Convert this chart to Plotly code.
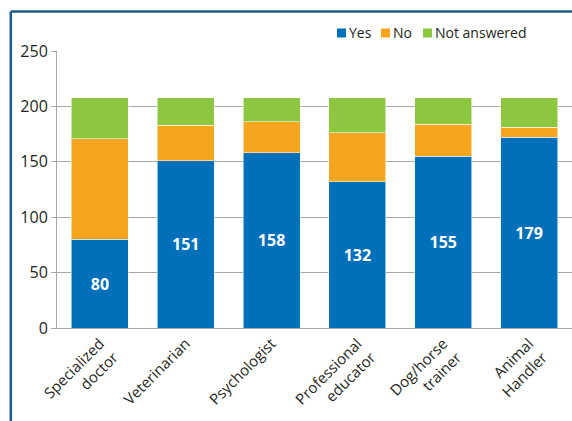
import plotly.graph_objects as go

categories = ["Specialized<br>doctor", "Veterinarian", "Psychologist",
              "Professional<br>educator", "Dog/horse<br>trainer", "Animal<br>Handler"]
yes_values = [80, 151, 158, 132, 155, 172]
yes_labels = ["80", "151", "158", "132", "155", "179"]
no_values = [91, 32, 28, 44, 29, 9]
na_values = [37, 25, 22, 32, 24, 27]
series_names = ["Yes", "No", "Not answered"]
colors = ["#0070BA", "#F7A51E", "#8DC63F"]
y_ticks = [0, 50, 100, 150, 200, 250]

FONT = "Open Sans"
TEXT = "#231F20"
GRID = "#A8A8A8"
FRAME = "#1B5A8C"

W, H = 572, 421
ML, MR, MT, MB = 57, 0, 51, 93
PW = W - ML - MR
PH = H - MT - MB


def px_x(x):
    return (x - ML) / PW


def px_y(y):
    return (H - MB - y) / PH


fig = go.Figure()
edge = dict(color="rgba(255,255,255,0.55)", width=1)
fig.add_trace(go.Bar(x=categories, y=yes_values, name=series_names[0],
                     marker=dict(color=colors[0], line=edge),
                     text=yes_labels, textposition="inside",
                     insidetextanchor="middle", textangle=0,
                     textfont=dict(family=FONT, size=16, color="white", weight="bold"),
                     showlegend=False))
fig.add_trace(go.Bar(x=categories, y=no_values, name=series_names[1],
                     marker=dict(color=colors[1], line=edge), showlegend=False))
fig.add_trace(go.Bar(x=categories, y=na_values, name=series_names[2],
                     marker=dict(color=colors[2], line=edge), showlegend=False))

shapes = []
# frame (top and left edge of the figure box)
fx = px_x(10.8)
fy = px_y(11.5)
shapes.append(dict(type="line", xref="paper", yref="paper", x0=fx, x1=fx,
                   y0=px_y(425), y1=fy, line=dict(color=FRAME, width=2.5), layer="above"))
shapes.append(dict(type="line", xref="paper", yref="paper", x0=fx, x1=px_x(580),
                   y0=fy, y1=fy, line=dict(color=FRAME, width=2.5), layer="above"))

# custom legend
annotations = []
leg_sq = [337, 381, 423]
for name, col, sx in zip(series_names, colors, leg_sq):
    shapes.append(dict(type="rect", xref="paper", yref="paper",
                       x0=px_x(sx), x1=px_x(sx + 9), y0=px_y(37.5), y1=px_y(28.5),
                       fillcolor=col, line=dict(width=0)))
    annotations.append(dict(xref="paper", yref="paper", x=px_x(sx + 10), y=px_y(33),
                            text=name, showarrow=False, xanchor="left", yanchor="middle",
                            font=dict(family=FONT, size=14, color=TEXT)))

fig.update_layout(
    width=W, height=H,
    margin=dict(l=ML, r=MR, t=MT, b=MB),
    barmode="stack", bargap=0.335,
    paper_bgcolor="white", plot_bgcolor="white",
    font=dict(family=FONT, color=TEXT),
    showlegend=False,
    shapes=shapes, annotations=annotations,
    xaxis=dict(tickangle=-45, tickfont=dict(family=FONT, size=15, color=TEXT),
               showline=True, linecolor=GRID, linewidth=1, ticks="",
               showgrid=False),
    yaxis=dict(range=[0, 250], tickvals=y_ticks, tickfont=dict(family=FONT, size=16, color=TEXT),
               showline=True, linecolor=GRID, linewidth=1,
               ticks="outside", ticklen=5, tickcolor=GRID,
               showgrid=True, gridcolor=GRID, gridwidth=1, zeroline=False),
)

fig.write_html("out.html",
               config={"displayModeBar": False},
               post_script="document.body.style.margin='0';document.body.style.overflow='hidden';")
